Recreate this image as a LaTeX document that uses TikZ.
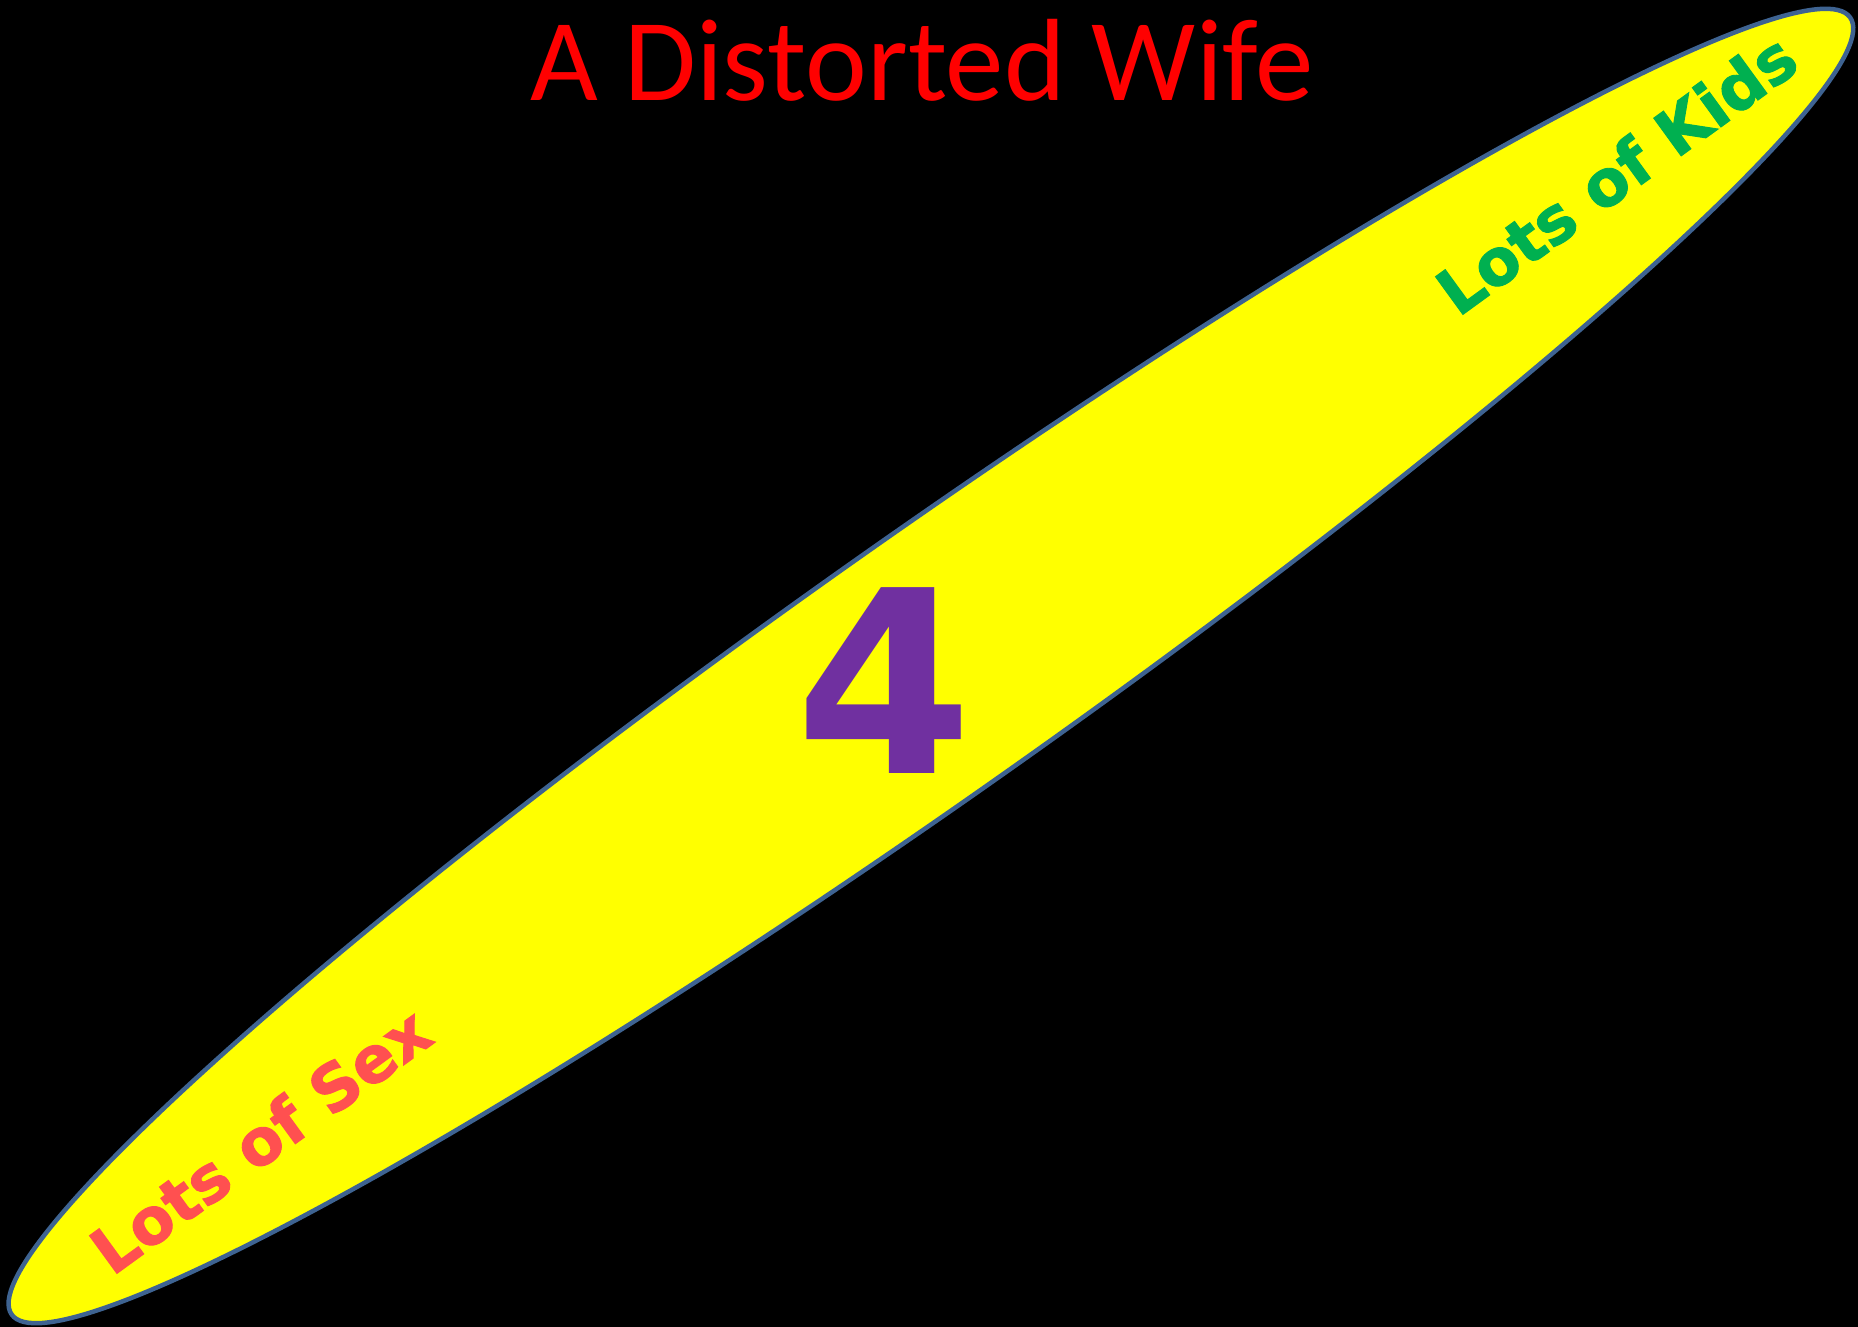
\documentclass[tikz,border=0pt]{standalone}
\usepackage{fontspec}
\setmainfont{Carlito}
\newfontfamily\heavyfont{DejaVu Sans Bold}
\newfontfamily\heavierfont{DejaVu Sans Bold}[FakeBold=1.5]
\definecolor{bgblack}{HTML}{000000}
\definecolor{ellfill}{HTML}{FFFF00}
\definecolor{ellline}{HTML}{3E6391}
\definecolor{titlered}{HTML}{FF0000}
\definecolor{fourpurple}{HTML}{7030A0}
\definecolor{sexred}{HTML}{FF5050}
\definecolor{kidsgreen}{HTML}{00B050}
\tikzset{
  titletext/.style={inner sep=0pt, text=titlered, font=\fontsize{117}{140}\selectfont},
  bigfour/.style={inner sep=0pt, text=fourpurple, font=\heavyfont\fontsize{255}{280}\selectfont},
  sidetext/.style={inner sep=0pt, font=\heavierfont\fontsize{64}{70}\selectfont},
  ellstyle/.style={fill=ellfill, draw=ellline, line width=4.5pt}
}
\begin{document}
\begin{tikzpicture}[x=1pt, y=-1pt]
\fill[bgblack] (0,0) rectangle (1858,1327);
\useasboundingbox (0,0) rectangle (1858,1327);
\coordinate (c) at (931,666);
\draw[ellstyle, rotate around={35.2:(c)}] (c) ellipse [x radius=1125pt, y radius=130pt];
\node[titletext, anchor=base] (title) at (922,101) {A Distorted Wife};
\node[bigfour] (four) at (884,681) {4};
\node[sidetext, text=sexred, anchor=base west, rotate=36] (sex) at (112,1277) {Lots of Sex};
\node[sidetext, text=kidsgreen, anchor=base west, rotate=36] (kids) at (1458,318) {Lots of Kids};
\end{tikzpicture}
\end{document}
